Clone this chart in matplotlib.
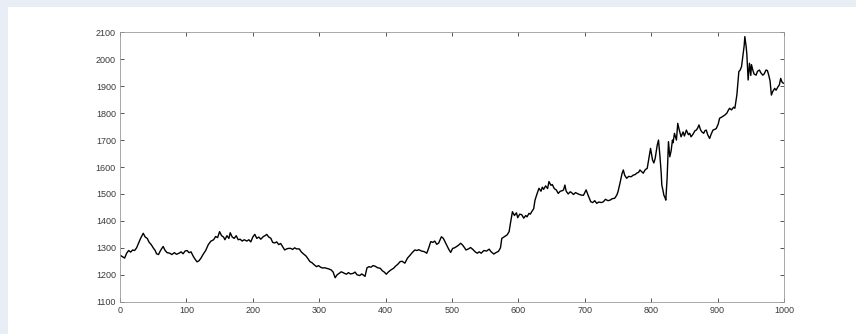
import matplotlib

matplotlib.use("Agg")
import matplotlib.pyplot as plt
from matplotlib.patches import Rectangle

_PAGE = "#e9edf6"
_SPINE = "#9a9a9a"
_TEXT = "#3a3a3a"

# sample index and price
idx = [
    0, 3, 7, 10, 13, 16, 19, 22, 25, 28, 31, 35, 38, 41, 44, 47, 50, 53, 55, 58,
    61, 65, 68, 71, 75, 78, 82, 85, 89, 92, 95, 98, 101, 104, 107, 110, 113, 116, 119, 122,
    125, 129, 133, 137, 141, 144, 147, 150, 153, 156, 158, 161, 164, 166, 169, 172, 175, 178, 181, 184,
    187, 191, 194, 197, 200, 203, 206, 209, 212, 216, 219, 221, 224, 227, 230, 233, 236, 239, 242, 245,
    248, 251, 254, 257, 260, 263, 266, 270, 273, 276, 280, 283, 286, 289, 292, 296, 299, 302, 305, 308,
    311, 314, 318, 321, 324, 327, 330, 333, 336, 339, 341, 344, 347, 351, 354, 357, 361, 364, 367, 369,
    372, 375, 378, 381, 384, 388, 392, 395, 398, 401, 404, 408, 412, 415, 418, 422, 425, 429, 433, 437,
    440, 444, 447, 450, 454, 458, 462, 465, 468, 471, 474, 477, 480, 484, 487, 490, 492, 495, 498, 501,
    504, 507, 510, 513, 516, 519, 521, 524, 528, 531, 535, 538, 541, 544, 548, 552, 556, 559, 563, 566,
    570, 573, 575, 578, 583, 586, 588, 591, 594, 597, 599, 602, 605, 608, 611, 613, 616, 618, 620, 623,
    625, 628, 631, 634, 636, 638, 641, 644, 646, 649, 651, 654, 657, 660, 663, 666, 668, 670, 672, 675,
    678, 680, 683, 686, 690, 694, 698, 702, 705, 709, 712, 715, 718, 721, 725, 728, 731, 735, 738, 741,
    745, 748, 750, 753, 756, 758, 760, 763, 766, 770, 773, 776, 778, 781, 783, 786, 788, 791, 794, 797,
    799, 801, 802, 804, 806, 809, 811, 813, 815, 816, 818, 819, 821, 822, 824, 826, 828, 830, 832, 833,
    835, 838, 840, 842, 845, 848, 850, 853, 856, 858, 860, 863, 866, 868, 870, 872, 874, 876, 879, 881,
    883, 885, 888, 890, 893, 896, 898, 901, 903, 906, 909, 911, 914, 916, 918, 921, 924, 926, 929, 932,
    934, 936, 938, 940, 941, 943, 944, 946, 948, 950, 951, 953, 955, 958, 960, 963, 965, 968, 970, 973,
    975, 977, 979, 981, 983, 986, 988, 991, 993, 995, 997, 999,
]
price = [
    1273, 1268, 1262, 1280, 1290, 1284, 1292, 1290, 1300, 1318, 1335, 1354, 1340, 1335, 1320, 1312, 1300, 1290, 1278, 1275,
    1290, 1305, 1290, 1282, 1280, 1275, 1282, 1276, 1280, 1285, 1278, 1288, 1290, 1282, 1285, 1270, 1258, 1248, 1252, 1262,
    1275, 1290, 1312, 1325, 1330, 1342, 1338, 1360, 1345, 1340, 1330, 1345, 1335, 1356, 1340, 1335, 1345, 1330, 1332, 1325,
    1330, 1325, 1330, 1322, 1340, 1350, 1335, 1340, 1332, 1342, 1346, 1350, 1340, 1336, 1320, 1318, 1322, 1312, 1316, 1304,
    1292, 1296, 1298, 1298, 1294, 1300, 1296, 1296, 1285, 1278, 1270, 1260, 1249, 1245, 1238, 1230, 1234, 1228, 1225, 1226,
    1224, 1222, 1218, 1210, 1189, 1200, 1205, 1211, 1208, 1204, 1202, 1208, 1203, 1205, 1210, 1200, 1197, 1203, 1198, 1194,
    1226, 1230, 1228, 1234, 1232, 1226, 1224, 1215, 1210, 1202, 1210, 1218, 1224, 1232, 1238, 1249, 1250, 1243, 1262, 1273,
    1282, 1292, 1290, 1293, 1288, 1286, 1280, 1300, 1323, 1320, 1325, 1313, 1318, 1341, 1335, 1320, 1310, 1295, 1283, 1298,
    1300, 1305, 1310, 1317, 1310, 1300, 1292, 1295, 1301, 1295, 1285, 1280, 1285, 1280, 1290, 1288, 1295, 1285, 1277, 1282,
    1287, 1300, 1335, 1340, 1348, 1360, 1391, 1434, 1420, 1430, 1412, 1425, 1423, 1410, 1420, 1415, 1428, 1425, 1434, 1445,
    1477, 1500, 1521, 1510, 1525, 1517, 1530, 1520, 1546, 1532, 1535, 1520, 1515, 1502, 1510, 1512, 1515, 1533, 1510, 1500,
    1508, 1505, 1498, 1505, 1500, 1496, 1495, 1515, 1495, 1471, 1468, 1475, 1465, 1470, 1468, 1471, 1480, 1475, 1477, 1482,
    1484, 1495, 1508, 1540, 1575, 1589, 1570, 1558, 1565, 1564, 1570, 1572, 1577, 1580, 1589, 1582, 1577, 1590, 1595, 1640,
    1669, 1640, 1626, 1615, 1632, 1680, 1700, 1645, 1580, 1533, 1510, 1496, 1485, 1477, 1560, 1694, 1638, 1660, 1700, 1690,
    1725, 1700, 1762, 1740, 1712, 1730, 1715, 1737, 1720, 1725, 1712, 1722, 1735, 1737, 1745, 1756, 1740, 1731, 1725, 1735,
    1737, 1720, 1706, 1720, 1737, 1740, 1743, 1760, 1781, 1785, 1790, 1793, 1800, 1810, 1818, 1812, 1822, 1818, 1867, 1954,
    1960, 1972, 2010, 2050, 2084, 2047, 2020, 1923, 1985, 1940, 1980, 1960, 1945, 1941, 1955, 1960, 1950, 1941, 1945, 1960,
    1958, 1941, 1920, 1867, 1880, 1892, 1885, 1898, 1905, 1929, 1915, 1911,
]

x_ticks = list(range(0, 1001, 100))
y_ticks = list(range(1100, 2101, 100))

fig = plt.figure(figsize=(8.56, 3.34), dpi=100)
fig.patch.set_facecolor(_PAGE)
# white card behind the plot, leaving a thin page strip top and left
fig.patches.append(
    Rectangle((8 / 856, 0), 1, 1 - 7 / 334, transform=fig.transFigure,
              facecolor="white", edgecolor="none", zorder=-10)
)

ax = fig.add_axes([120 / 856, 32.3 / 334, 664 / 856, 269.4 / 334])
ax.set_facecolor("white")
ax.plot(idx, price, color="black", linewidth=1.0)

ax.set_xlim(0, 1000)
ax.set_ylim(1100, 2100)
ax.set_xticks(x_ticks)
ax.set_yticks(y_ticks)
ax.tick_params(direction="in", length=3, width=0.6, colors=_TEXT,
               top=True, right=True, labelsize=6.5, pad=3)
for label in ax.get_xticklabels() + ax.get_yticklabels():
    label.set_family("Liberation Sans")
for spine in ax.spines.values():
    spine.set_color(_SPINE)
    spine.set_linewidth(0.6)

fig.savefig("out.png", dpi=100, facecolor=fig.get_facecolor())
